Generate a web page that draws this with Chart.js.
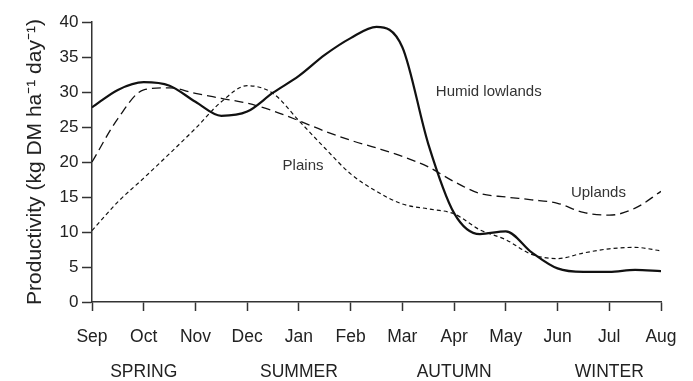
<!DOCTYPE html>
<html>
<head>
<meta charset="utf-8">
<script src="https://cdn.jsdelivr.net/npm/chart.js@4/dist/chart.umd.min.js"></script>
<style>
html,body{margin:0;padding:0;background:#fff;}
#wrap{width:693px;height:381px;}
</style>
</head>
<body>
<div id="wrap"><canvas id="c" width="693" height="381"></canvas></div>
<script>
// ---- data ----
const months = ['Sep','Oct','Nov','Dec','Jan','Feb','Mar','Apr','May','Jun','Jul','Aug'];
const seasons = ['','SPRING','','','SUMMER','','','AUTUMN','','','WINTER',''];
const yTickValues = [0,5,10,15,20,25,30,35,40];
// sample positions, in months from September (half-month steps)
const samplePos = [0,0.5,1,1.5,2,2.5,3,3.5,4,4.5,5,5.5,6,6.5,7,7.5,8,8.5,9,9.5,10,10.5,11];
const humidLowlands = [27.8,30.3,31.4,30.9,28.6,26.6,27.2,29.9,32.3,35.3,37.7,39.3,36.4,22.6,12.7,9.7,10.1,7.1,4.8,4.3,4.3,4.6,4.4];
const uplands       = [20.0,26.2,30.3,30.6,29.8,29.1,28.4,27.3,25.9,24.4,23.1,22.0,20.8,19.3,17.2,15.5,15.0,14.6,14.1,12.8,12.4,13.4,15.8];
const plains        = [10.2,14.3,17.7,21.2,24.8,28.6,30.9,29.8,25.9,22.0,18.3,15.8,14.0,13.3,12.6,10.3,8.9,6.8,6.2,7.0,7.6,7.8,7.3];
// in-plot labels (data coordinates)
const labelNames = ['Humid lowlands','Plains','Uplands'];
const labelX = [7.67,4.08,9.79];
const labelY = [30.0,19.5,15.6];

const FONT = "'Liberation Sans', Arial, Helvetica, sans-serif";
const INK = '#222';

function pts(vals){ return samplePos.map((x,i)=>({x:x,y:vals[i]})); }

const labelPlugin = {
  id:'inplotLabels',
  afterDatasetsDraw(chart){
    const {ctx, scales:{x,y}} = chart;
    ctx.save();
    ctx.font = '15px ' + FONT;
    ctx.fillStyle = '#333';
    ctx.textAlign = 'center';
    ctx.textBaseline = 'middle';
    labelNames.forEach((t,i)=>{
      ctx.fillText(t, x.getPixelForValue(labelX[i]), y.getPixelForValue(labelY[i]));
    });
    ctx.restore();
  }
};

const common = {pointRadius:0, pointHoverRadius:0, fill:false, cubicInterpolationMode:'monotone', borderColor:'#111'};

new Chart(document.getElementById('c'), {
  type:'line',
  data:{
    datasets:[
      Object.assign({label:'Humid lowlands', data:pts(humidLowlands), borderWidth:2.2}, common),
      Object.assign({label:'Uplands', data:pts(uplands), borderWidth:1.3, borderDash:[9,5]}, common),
      Object.assign({label:'Plains', data:pts(plains), borderWidth:1.2, borderDash:[4,3]}, common)
    ]
  },
  options:{
    responsive:false,
    devicePixelRatio:1,
    animation:false,
    events:[],
    layout:{padding:{left:0,right:32,top:22,bottom:0}},
    plugins:{legend:{display:false}, tooltip:{enabled:false}},
    scales:{
      x:{
        type:'linear', min:0, max:11,
        afterBuildTicks(s){ s.ticks = months.map((m,i)=>({value:i})); },
        ticks:{
          autoSkip:false, maxRotation:0, padding:8.5, color:INK,
          font:{family:FONT, size:17.5, lineHeight:2},
          callback:(v)=> seasons[v] ? [months[v], seasons[v]] : months[v]
        },
        grid:{drawOnChartArea:false, tickLength:9, tickWidth:1.5, color:'#333'},
        border:{color:'#333', width:1.5},
        afterFit(s){ s.height = 79; }
      },
      y:{
        min:0, max:40,
        afterBuildTicks(s){ s.ticks = yTickValues.map(v=>({value:v})); },
        ticks:{padding:3.5, color:INK, font:{family:FONT, size:17}},
        grid:{drawOnChartArea:false, tickLength:10, tickWidth:1.5, color:'#333'},
        border:{color:'#333', width:1.5},
        title:{display:true, text:'Productivity (kg DM ha\u207B\u00B9 day\u207B\u00B9)', color:INK,
               font:{family:FONT, size:21}, padding:{top:23,bottom:0}},
        afterFit(s){ s.width = 92; }
      }
    }
  },
  plugins:[labelPlugin]
});
</script>
</body>
</html>
